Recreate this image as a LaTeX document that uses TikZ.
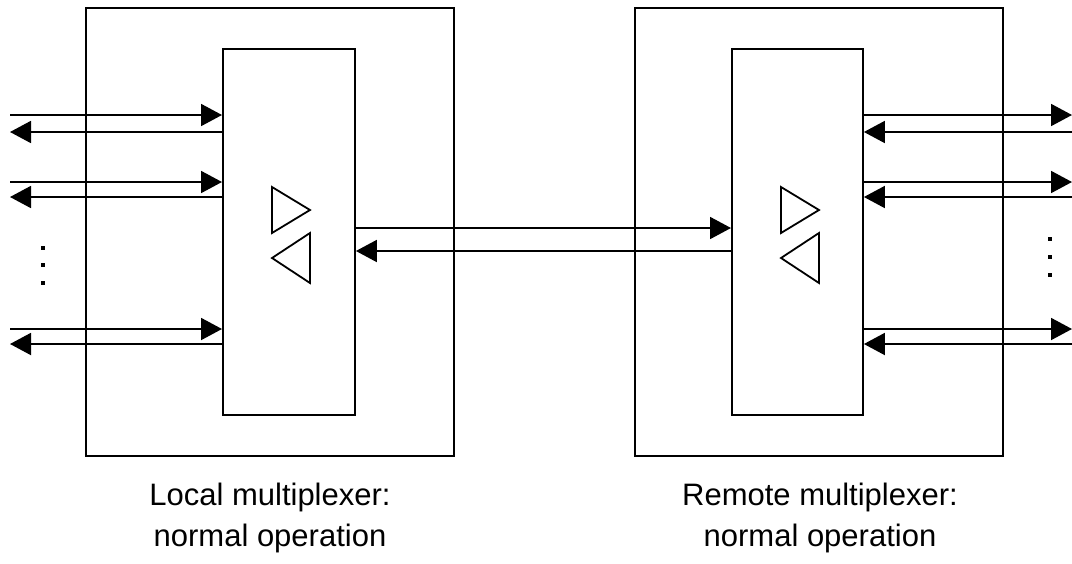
\documentclass[tikz,border=0pt]{standalone}
\usepackage{fontspec}
\setmainfont{Liberation Sans}
\usetikzlibrary{arrows.meta}
\begin{document}
\begin{tikzpicture}[x=1pt,y=-1pt,
  box/.style={draw,line width=1.9pt},
  sig/.style={line width=1.9pt,-{Triangle[length=21pt,width=22pt]}},
  tri/.style={draw,line width=1.8pt,line join=miter},
  lbl/.style={font=\fontsize{31}{41}\selectfont,anchor=base,inner sep=0pt},
  dot/.style={fill,minimum size=3.5pt,inner sep=0pt}]
\useasboundingbox (0,0) rectangle (1072,563);
% boxes
\draw[box] (86,8) rectangle (454,456);
\draw[box] (635,8) rectangle (1003,456);
\node[box,minimum width=132pt,minimum height=366pt,inner sep=0pt,anchor=north west] (L) at (222,48) {};
\node[box,minimum width=131pt,minimum height=366pt,inner sep=0pt,anchor=north west] (R) at (731,48) {};
% side signals
\foreach \n/\a/\b in {1/115/132,2/182/197,3/329/344}{
  \coordinate (la\n) at (10,\a);
  \coordinate (lb\n) at (10,\b);
  \coordinate (ra\n) at (1072,\a);
  \coordinate (rb\n) at (1072,\b);
  \draw[sig] (la\n) -- (la\n -| L.west);
  \draw[sig] (lb\n -| L.west) -- (lb\n);
  \draw[sig] (ra\n -| R.east) -- (ra\n);
  \draw[sig] (rb\n) -- (rb\n -| R.east);
}
% middle link
\coordinate (m1) at (0,228);
\coordinate (m2) at (0,251);
\draw[sig] (m1 -| L.east) -- (m1 -| R.west);
\draw[sig] (m2 -| R.west) -- (m2 -| L.east);
% triangles
\foreach \dx in {0,509}{
  \draw[tri] (272+\dx,187) -- (310+\dx,210) -- (272+\dx,233) -- cycle;
  \draw[tri] (310+\dx,233) -- (272+\dx,258) -- (310+\dx,283) -- cycle;
}
% dots
\foreach \y [count=\i] in {248,265,283}{
  \node[dot] (dl\i) at (43,\y) {};
}
\foreach \y [count=\i] in {239,257,275}{
  \node[dot] (dr\i) at (1050,\y) {};
}
% labels
\node[lbl] (tl1) at (270,505) {Local multiplexer:};
\node[lbl] (tl2) at (270,546) {normal operation};
\node[lbl] (tr1) at (820,505) {Remote multiplexer:};
\node[lbl] (tr2) at (820,546) {normal operation};
\end{tikzpicture}
\end{document}
